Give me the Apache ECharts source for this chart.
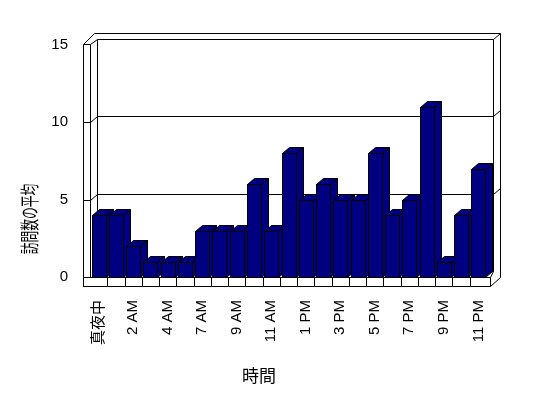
<!DOCTYPE html>
<html>
<head>
<meta charset="utf-8">
<script src="https://cdn.jsdelivr.net/npm/echarts@6/dist/echarts.min.js"></script>
<style>
  html, body { margin: 0; padding: 0; background: #fff; }
  #chart { width: 548px; height: 398px; }
</style>
</head>
<body>
<div id="chart"></div>
<script>
// 時間帯ごとの訪問数の平均
var hours = ['真夜中', '1 AM', '2 AM', '3 AM', '4 AM', '5 AM', '7 AM', '8 AM', '9 AM', '10 AM', '11 AM', '正午',
    '1 PM', '2 PM', '3 PM', '4 PM', '5 PM', '6 PM', '7 PM', '8 PM', '9 PM', '10 PM', '11 PM'];
var visits = [4, 4, 2, 1, 1, 1, 3, 3, 3, 6, 3, 8, 5, 6, 5, 5, 8, 4, 5, 11, 1, 4, 7];
var yTicks = [0, 5, 10, 15];

var yMax = yTicks[yTicks.length - 1];
var DX = 7, DY = -6;   // 奥行き
var lineStyle = { stroke: '#000', lineWidth: 1, fill: null };

function c(v) { return Math.round(v) + 0.5; }

function line(x1, y1, x2, y2) {
    return {
        type: 'line',
        shape: { x1: c(x1), y1: c(y1), x2: c(x2), y2: c(y2) },
        style: lineStyle
    };
}

function rect(x, y, w, h, fill) {
    return {
        type: 'rect',
        shape: { x: c(x), y: c(y), width: Math.round(w), height: Math.round(h) },
        style: { stroke: '#000', lineWidth: 1, fill: fill || null }
    };
}

// 壁と床
function renderFrame(params, api) {
    var n = hours.length;
    var band = api.size([1, 0])[0];
    var x0 = api.coord([0, 0])[0] - band / 2;
    var xN = api.coord([n - 1, 0])[0] + band / 2;
    var yB = api.coord([0, 0])[1];
    var yT = api.coord([0, yMax])[1];
    var els = [];

    // 奥の壁
    els.push(rect(x0 + DX, yT + DY, xN - x0 - 1, yB - yT, '#fff'));
    // 外枠
    els.push(line(x0 - 7, yT - 1, x0 + 4, yT - 12));
    els.push(line(x0 + 4, yT - 12, xN + 13, yT - 12));
    els.push(line(xN + 13, yT - 12, xN + 13, yB));
    els.push(line(xN + 13, yB, xN + 3, yB + 9));
    els.push(line(xN + 6, yT + DY, xN + 13, yT - 12));
    // 左の壁
    els.push(rect(x0 - 7, yT - 1, 7, yB + 10 - yT, '#fff'));
    els.push(line(x0, yT - 1, x0 + DX, yT + DY));
    // 床
    els.push(rect(x0 - 7, yB, xN + 10 - x0, 9, '#fff'));
    els.push(line(xN + 3, yB, xN + 6, yB + DY));
    for (var k = 1; k < n; k++) {
        els.push(line(x0 + k * band, yB, x0 + k * band, yB + 9));
    }
    // 目盛線
    yTicks.forEach(function (v) {
        if (v === 0 || v === yMax) return;
        var y = api.coord([0, v])[1];
        els.push(line(x0 - 7, y, x0, y));
        els.push(line(x0, y, x0 + DX, y + DY));
        els.push(line(x0 + DX, y + DY, xN + 6, y + DY));
        els.push(line(xN + 6, y + DY, xN + 13, y - 12));
    });
    return { type: 'group', children: els };
}

// 3D 棒
function renderBar(params, api) {
    var top = api.coord([api.value(0), api.value(1)]);
    var base = api.coord([api.value(0), 0]);
    var w = 14;
    var x = Math.round(top[0] - w / 2) + 0.5;
    var yt = Math.round(top[1]) + 0.5;
    var yb = Math.round(base[1]) + 0.5;
    var st = { fill: '#000080', stroke: '#000', lineWidth: 1 };
    return {
        type: 'group',
        children: [{
            type: 'polygon',
            shape: { points: [[x + w, yt], [x + w + DX, yt + DY], [x + w + DX, yb + DY], [x + w, yb]] },
            style: st
        }, {
            type: 'polygon',
            shape: { points: [[x, yt], [x + DX, yt + DY], [x + w + DX, yt + DY], [x + w, yt]] },
            style: st
        }, {
            type: 'rect',
            shape: { x: x, y: yt, width: w, height: yb - yt },
            style: st
        }]
    };
}

var chart = echarts.init(document.getElementById('chart'));

var option = {
    backgroundColor: '#fff',
    animation: false,
    grid: { left: 90, right: 61, top: 45, bottom: 121 },
    xAxis: {
        type: 'category',
        data: hours,
        axisLine: { show: false },
        axisTick: { show: false },
        axisLabel: {
            interval: 1,
            rotate: 90,
            margin: 23,
            color: '#000',
            fontSize: 15,
            fontFamily: 'Liberation Sans, "Noto Sans CJK JP", sans-serif'
        }
    },
    yAxis: {
        type: 'value',
        min: 0,
        max: yMax,
        interval: 5,
        axisLine: { show: false },
        axisTick: { show: false },
        splitLine: { show: false },
        axisLabel: {
            margin: 22,
            color: '#000',
            fontSize: 15,
            fontFamily: 'Liberation Sans, sans-serif'
        }
    },
    graphic: [{
        type: 'text',
        x: 30,
        y: 219,
        rotation: Math.PI / 2,
        scaleX: 0.62,
        style: {
            text: '訪問数の平均',
            font: '19px "Noto Sans CJK JP"',
            fill: '#000',
            textAlign: 'center',
            textVerticalAlign: 'middle'
        }
    }, {
        type: 'text',
        x: 259,
        y: 376,
        style: {
            text: '時間',
            font: '17px "Noto Sans CJK JP"',
            fill: '#000',
            textAlign: 'center',
            textVerticalAlign: 'middle'
        }
    }],
    series: [{
        type: 'custom',
        z: 1,
        silent: true,
        data: [[0, 0]],
        renderItem: renderFrame
    }, {
        name: '訪問数の平均',
        type: 'custom',
        z: 2,
        data: visits.map(function (v, i) { return [i, v]; }),
        renderItem: renderBar
    }]
};

chart.setOption(option);
</script>
</body>
</html>
